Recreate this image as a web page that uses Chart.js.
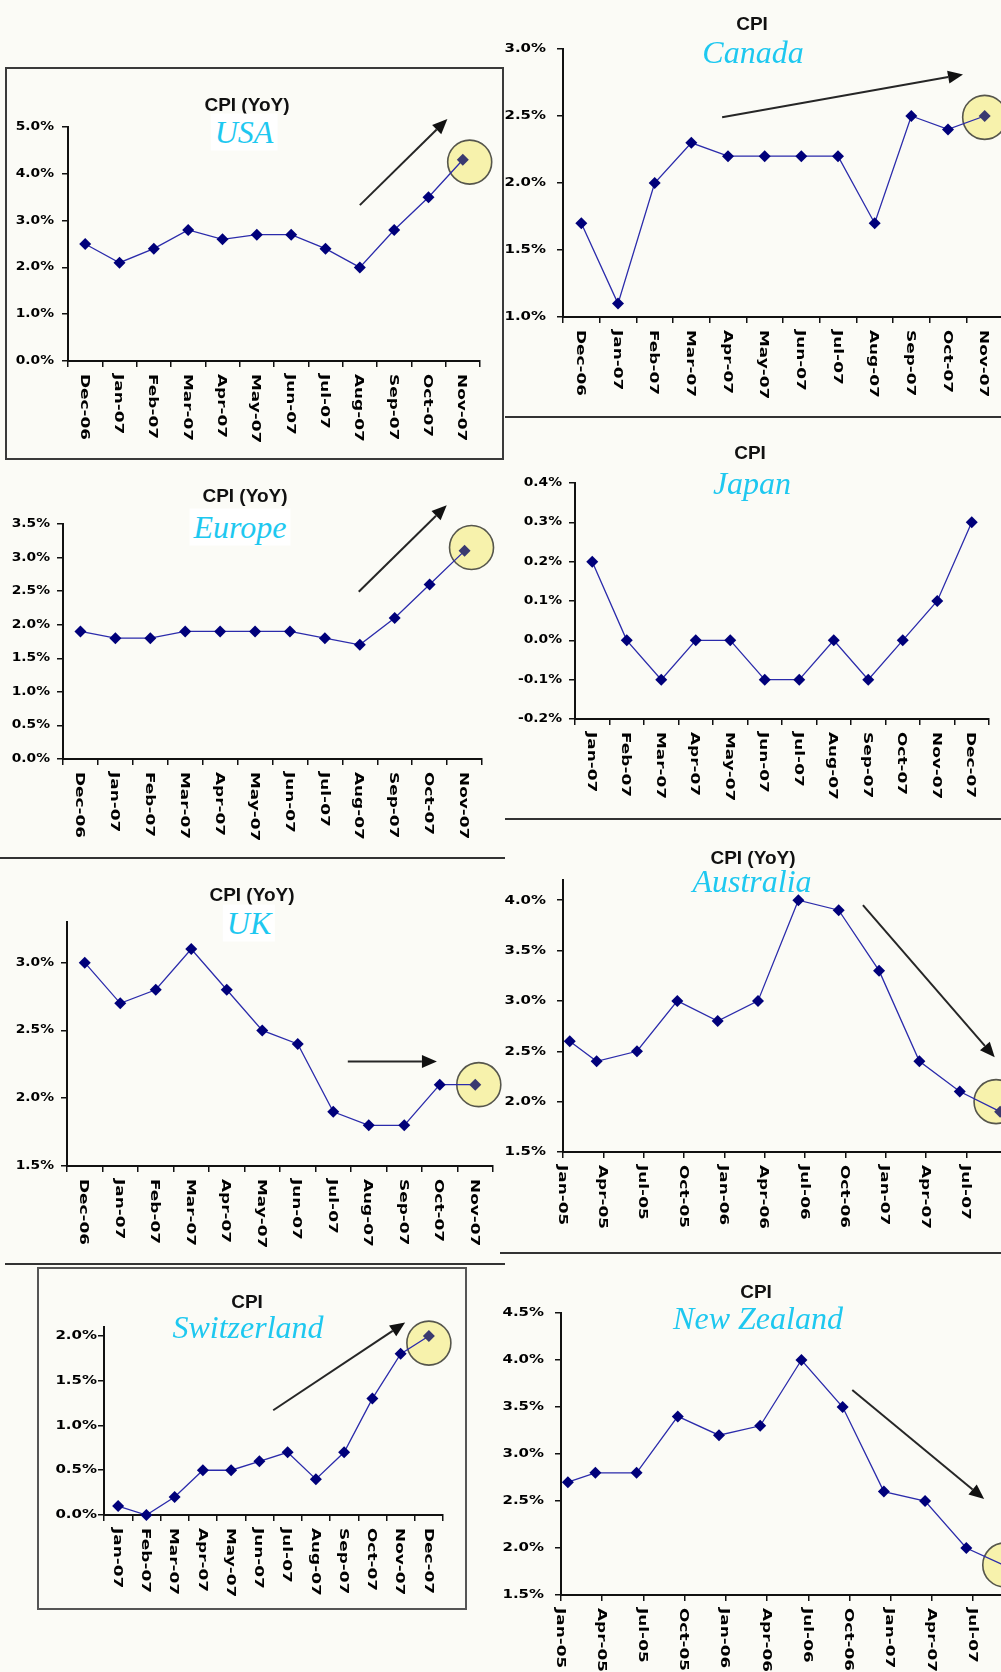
<!DOCTYPE html>
<html>
<head>
<meta charset="utf-8">
<title>CPI by country</title>
<script src="https://cdn.jsdelivr.net/npm/chart.js@4.4.1/dist/chart.umd.min.js"></script>
<style>
  html, body { margin: 0; padding: 0; }
  body {
    width: 1001px; height: 1672px; overflow: hidden; position: relative;
    background: #fbfbf6;
    font-family: "Liberation Sans", Arial, sans-serif;
  }
  canvas { position: absolute; }
  .rule { position: absolute; background: #333; height: 2px; }
  .frame { position: absolute; box-sizing: border-box; border: 2px solid #3a3a3a; }
  .t1, .t2 { position: absolute; transform: translate(-50%, -50%); white-space: nowrap; line-height: 1; }
  .t1 { font: bold 19px "Liberation Sans", Arial, sans-serif; color: #111; }
  .t2 { font: italic 32px "Liberation Serif", "Times New Roman", serif; color: #1ec8f0; padding: 0 4px; }
  .t2.bg { background: #fff; }
</style>
</head>
<body>

<div class="frame" style="left:5px;top:67px;width:499px;height:393px;"></div>
<div class="frame" style="left:37px;top:1267px;width:430px;height:343px;border-color:#555;"></div>
<div class="rule" style="left:505px;top:416px;width:496px;"></div>
<div class="rule" style="left:505px;top:818px;width:496px;"></div>
<div class="rule" style="left:0;top:857px;width:505px;"></div>
<div class="rule" style="left:500px;top:1252px;width:501px;"></div>
<div class="rule" style="left:5px;top:1263px;width:500px;"></div>

<script>
// ---- categories ----
const monthsDec06 = ['Dec-06','Jan-07','Feb-07','Mar-07','Apr-07','May-07','Jun-07','Jul-07','Aug-07','Sep-07','Oct-07','Nov-07'];
const monthsJan07 = ['Jan-07','Feb-07','Mar-07','Apr-07','May-07','Jun-07','Jul-07','Aug-07','Sep-07','Oct-07','Nov-07','Dec-07'];
const quarterDates = ['Jan-05','Mar-05','Jun-05','Sep-05','Dec-05','Mar-06','Jun-06','Sep-06','Dec-06','Mar-07','Jun-07','Sep-07'];
const quarterTicks = ['Jan-05','Apr-05','Jul-05','Oct-05','Jan-06','Apr-06','Jul-06','Oct-06','Jan-07','Apr-07','Jul-07','Oct-07'];

// ---- series (CPI, % year on year) ----
const usaCPI       = [2.5, 2.1, 2.4, 2.8, 2.6, 2.7, 2.7, 2.4, 2.0, 2.8, 3.5, 4.3];
const canadaCPI    = [1.7, 1.1, 2.0, 2.3, 2.2, 2.2, 2.2, 2.2, 1.7, 2.5, 2.4, 2.5];
const europeCPI    = [1.9, 1.8, 1.8, 1.9, 1.9, 1.9, 1.9, 1.8, 1.7, 2.1, 2.6, 3.1];
const japanCPI     = [0.2, 0.0, -0.1, 0.0, 0.0, -0.1, -0.1, 0.0, -0.1, 0.0, 0.1, 0.3];
const ukCPI        = [3.0, 2.7, 2.8, 3.1, 2.8, 2.5, 2.4, 1.9, 1.8, 1.8, 2.1, 2.1];
const australiaCPI = [2.6, 2.4, 2.5, 3.0, 2.8, 3.0, 4.0, 3.9, 3.3, 2.4, 2.1, 1.9];
const switzCPI     = [0.1, 0.0, 0.2, 0.5, 0.5, 0.6, 0.7, 0.4, 0.7, 1.3, 1.8, 2.0];
const nzCPI        = [2.7, 2.8, 2.8, 3.4, 3.2, 3.3, 4.0, 3.5, 2.6, 2.5, 2.0, 1.8];

// ---- value-axis ticks ----
const usaTicks       = [0, 1, 2, 3, 4, 5];
const canadaTicks    = [1.0, 1.5, 2.0, 2.5, 3.0];
const europeTicks    = [0, 0.5, 1.0, 1.5, 2.0, 2.5, 3.0, 3.5];
const japanTicks     = [-0.2, -0.1, 0, 0.1, 0.2, 0.3, 0.4];
const ukTicks        = [1.5, 2.0, 2.5, 3.0];
const australiaTicks = [1.5, 2.0, 2.5, 3.0, 3.5, 4.0];
const switzTicks     = [0, 0.5, 1.0, 1.5, 2.0];
const nzTicks        = [1.5, 2.0, 2.5, 3.0, 3.5, 4.0, 4.5];

const MONTHS = ['Jan','Feb','Mar','Apr','May','Jun','Jul','Aug','Sep','Oct','Nov','Dec'];
const TICK_FONT = '"DejaVu Sans", "Liberation Sans", Arial, sans-serif';

// months elapsed since January 2005 for a "Mon-yy" label
function monthIndex(label) {
  return MONTHS.indexOf(label.slice(0, 3)) + 12 * (parseInt(label.slice(4), 10) - 5);
}

function stretchedText(ctx, text, x, y, sx, align) {
  ctx.save();
  ctx.translate(x, y);
  ctx.scale(sx, 1);
  ctx.textAlign = align;
  ctx.fillText(text, 0, 0);
  ctx.restore();
}

function drawArrow(ctx, x1, y1, x2, y2) {
  const ang = Math.atan2(y2 - y1, x2 - x1), L = 15, W = 6.5;
  const bx = x2 - L * Math.cos(ang), by = y2 - L * Math.sin(ang);
  ctx.strokeStyle = '#262626';
  ctx.fillStyle = '#111';
  ctx.lineWidth = 2;
  ctx.beginPath(); ctx.moveTo(x1, y1); ctx.lineTo(bx, by); ctx.stroke();
  ctx.beginPath();
  ctx.moveTo(x2, y2);
  ctx.lineTo(bx + W * Math.sin(ang), by - W * Math.cos(ang));
  ctx.lineTo(bx - W * Math.sin(ang), by + W * Math.cos(ang));
  ctx.closePath(); ctx.fill();
}

function addTitle(cls, text, x, y) {
  const d = document.createElement('div');
  d.className = cls;
  d.textContent = text;
  d.style.left = x + 'px';
  d.style.top = y + 'px';
  document.body.appendChild(d);
}

function panel(o) {
  const [cx, cy, cw, ch] = o.canvas;
  const [al, at, ar, ab] = o.area;
  const cv = document.createElement('canvas');
  cv.width = cw; cv.height = ch;
  cv.style.left = cx + 'px'; cv.style.top = cy + 'px';
  document.body.appendChild(cv);

  const yW = al - cx, padT = at - cy, padR = cx + cw - ar, xH = cy + ch - ab;
  const linear = !!o.dates;
  const data = linear ? o.values.map((v, i) => ({ x: monthIndex(o.dates[i]) + 0.5, y: v })) : o.values;
  const hi = o.ring ? o.values.length - 1 : -1;
  const pointCols = o.values.map((_, i) => i === hi ? '#3a3a70' : '#00007a');
  const xLabels = linear
    ? o.xTicks.map(l => ({ v: monthIndex(l), label: l }))
    : o.labels.map((l, i) => ({ v: i, label: l }));

  const axisGrid = { display: true, drawOnChartArea: false, drawTicks: true, tickLength: 6, color: '#111', lineWidth: 1.5 };
  const axisBorder = { display: true, color: '#111', width: 2 };

  const xScale = linear
    ? { type: 'linear', min: 0, max: o.xMax,
        afterBuildTicks: s => { s.ticks = xLabels.map(t => ({ value: t.v })); },
        grid: { ...axisGrid, offset: false }, border: axisBorder, ticks: { display: false },
        afterFit: s => { s.height = xH; } }
    : { type: 'category', offset: true,
        grid: { ...axisGrid, offset: true }, border: axisBorder, ticks: { display: false },
        afterFit: s => { s.height = xH; } };

  const decor = {
    id: 'decor',
    beforeDatasetsDraw(chart) {
      if (!o.ring) return;
      const { ctx, scales: { x, y } } = chart;
      ctx.save();
      ctx.beginPath();
      ctx.arc(x.getPixelForValue(o.ring[0]), y.getPixelForValue(o.ring[1]), 22, 0, Math.PI * 2);
      ctx.fillStyle = '#f7f2ac';
      ctx.fill();
      ctx.lineWidth = 1.6;
      ctx.strokeStyle = '#56564c';
      ctx.stroke();
      ctx.restore();
    },
    afterDraw(chart) {
      const { ctx, chartArea: a, scales: { x, y } } = chart;
      ctx.save();
      ctx.fillStyle = '#000';
      ctx.textBaseline = 'middle';
      // value axis labels
      ctx.font = 'bold ' + o.yFont + 'px ' + TICK_FONT;
      o.yTicks.forEach(v => {
        stretchedText(ctx, v.toFixed(1) + '%', a.left - o.yGap, y.getPixelForValue(v), o.ySx, 'right');
      });
      // category / date labels, turned to read downwards
      ctx.font = 'bold 13px ' + TICK_FONT;
      xLabels.forEach(t => {
        ctx.save();
        ctx.translate(x.getPixelForValue(t.v), a.bottom + 13);
        ctx.rotate(Math.PI / 2);
        ctx.scale(1.3, 1);
        ctx.textAlign = 'left';
        ctx.fillText(t.label, 0, 1);
        ctx.restore();
      });
      if (o.arrow) {
        drawArrow(ctx,
          x.getPixelForValue(o.arrow[0][0]), y.getPixelForValue(o.arrow[0][1]),
          x.getPixelForValue(o.arrow[1][0]), y.getPixelForValue(o.arrow[1][1]));
      }
      ctx.restore();
    }
  };

  new Chart(cv, {
    type: 'line',
    data: {
      labels: linear ? undefined : o.labels,
      datasets: [{
        data,
        borderColor: '#2b2bab',
        borderWidth: 1.3,
        tension: 0,
        clip: false,
        pointStyle: 'rectRot',
        pointRadius: 6,
        pointBorderWidth: 0,
        pointBackgroundColor: pointCols,
        pointBorderColor: pointCols
      }]
    },
    options: {
      responsive: false,
      animation: false,
      events: [],
      layout: { padding: { left: 0, top: padT, right: padR, bottom: 0 } },
      plugins: { legend: { display: false }, tooltip: { enabled: false }, title: { display: false } },
      scales: {
        x: xScale,
        y: {
          type: 'linear', min: o.yMin, max: o.yMax,
          afterBuildTicks: s => { s.ticks = o.yTicks.map(v => ({ value: v })); },
          grid: axisGrid, border: axisBorder, ticks: { display: false },
          afterFit: s => { s.width = yW; }
        }
      }
    },
    plugins: [decor]
  });

  addTitle('t1', o.title, o.titleAt[0], o.titleAt[1]);
  addTitle('t2' + (o.nameBg ? ' bg' : ''), o.name, o.nameAt[0], o.nameAt[1]);
}

// ---- left column ----
panel({ title: 'CPI (YoY)', name: 'USA', titleAt: [247, 105], nameAt: [244, 132], nameBg: true,
  canvas: [0, 70, 505, 385], area: [68, 127, 480, 361],
  labels: monthsDec06, values: usaCPI, yMin: 0, yMax: 5, yTicks: usaTicks,
  yFont: 11.5, ySx: 1.2, yGap: 14,
  arrow: [[8.0, 3.33], [10.55, 5.17]], ring: [11.2, 4.25] });

panel({ title: 'CPI (YoY)', name: 'Europe', titleAt: [245, 496], nameAt: [240, 527], nameBg: true,
  canvas: [0, 462, 505, 394], area: [63, 524, 482, 759],
  labels: monthsDec06, values: europeCPI, yMin: 0, yMax: 3.5, yTicks: europeTicks,
  yFont: 11.5, ySx: 1.2, yGap: 13,
  arrow: [[7.97, 2.49], [10.49, 3.78]], ring: [11.2, 3.15] });

panel({ title: 'CPI (YoY)', name: 'UK', titleAt: [252, 895], nameAt: [249, 923], nameBg: true,
  canvas: [0, 860, 505, 401], area: [67, 922, 493, 1166],
  labels: monthsDec06, values: ukCPI, yMin: 1.5, yMax: 3.3, yTicks: ukTicks,
  yFont: 11.5, ySx: 1.2, yGap: 13,
  arrow: [[7.41, 2.27], [9.92, 2.27]], ring: [11.1, 2.1] });

panel({ title: 'CPI', name: 'Switzerland', titleAt: [247, 1302], nameAt: [248, 1327], nameBg: false,
  canvas: [39, 1269, 426, 338], area: [104, 1327, 443, 1515],
  labels: monthsJan07, values: switzCPI, yMin: 0, yMax: 2.1, yTicks: switzTicks,
  yFont: 12, ySx: 1.25, yGap: 7,
  arrow: [[5.49, 1.17], [10.16, 2.15]], ring: [11.0, 1.92] });

// ---- right column ----
panel({ title: 'CPI', name: 'Canada', titleAt: [752, 24], nameAt: [753, 52], nameBg: false,
  canvas: [503, 0, 510, 414], area: [563, 49, 1003, 317],
  labels: monthsDec06, values: canadaCPI, yMin: 1.0, yMax: 3.0, yTicks: canadaTicks,
  yFont: 13, ySx: 1.15, yGap: 17,
  arrow: [[3.84, 2.49], [10.41, 2.81]], ring: [11.0, 2.49] });

panel({ title: 'CPI', name: 'Japan', titleAt: [750, 453], nameAt: [752, 483], nameBg: false,
  canvas: [503, 419, 510, 398], area: [575, 483, 989, 719],
  labels: monthsJan07, values: japanCPI, yMin: -0.2, yMax: 0.4, yTicks: japanTicks,
  yFont: 12, ySx: 1.15, yGap: 13,
  arrow: null, ring: null });

panel({ title: 'CPI (YoY)', name: 'Australia', titleAt: [753, 858], nameAt: [752, 881], nameBg: false,
  canvas: [503, 821, 530, 430], area: [563, 880, 1028, 1152],
  dates: quarterDates, xTicks: quarterTicks, xMax: 34.5,
  values: australiaCPI, yMin: 1.5, yMax: 4.2, yTicks: australiaTicks,
  yFont: 13, ySx: 1.15, yGap: 17,
  arrow: [[22.3, 3.95], [32.1, 2.44]], ring: [32.2, 2.0] });

panel({ title: 'CPI', name: 'New Zealand', titleAt: [756, 1292], nameAt: [758, 1318], nameBg: false,
  canvas: [503, 1255, 540, 417], area: [561, 1313, 1035, 1595],
  dates: quarterDates, xTicks: quarterTicks, xMax: 34.5,
  values: nzCPI, yMin: 1.5, yMax: 4.5, yTicks: nzTicks,
  yFont: 13, ySx: 1.15, yGap: 17,
  arrow: [[21.2, 3.68], [30.8, 2.52]], ring: [32.3, 1.82] });
</script>
</body>
</html>
